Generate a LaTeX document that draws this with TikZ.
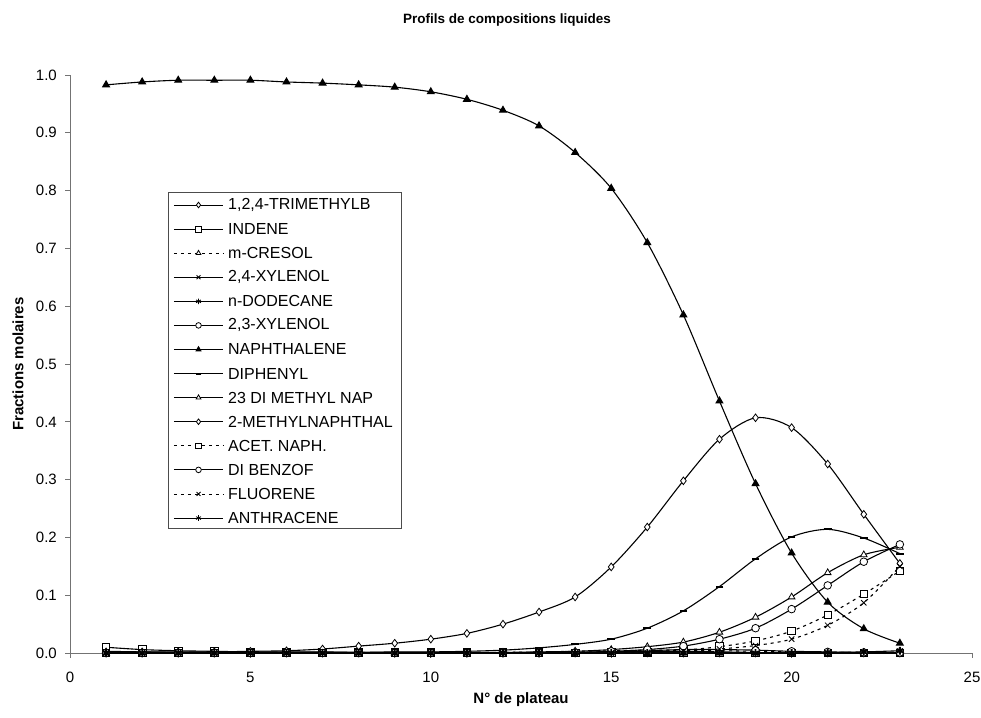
\documentclass[tikz,border=0pt]{standalone}
\usepackage{fontspec}
\setmainfont{Liberation Sans}
\usetikzlibrary{plotmarks}

\tikzset{
  serie/.style={black, line width=1.1pt, mark size=3.8pt, mark options={solid, fill=white, line width=0.8pt}},
  lisse/.style={smooth, tension=0.5},
  pointille/.style={dash pattern=on 3pt off 4pt},
  epais/.style={mark options={solid, line width=1.8pt}},
  axe/.style={draw=black!55, line width=0.9pt},
  gras/.style={font=\bfseries\fontsize{15}{17}\selectfont},
  trimeth/.style={mark=diamond*},
  indene/.style={mark=square*},
  cresol/.style={pointille, mark=triangle*},
  xyltf/.style={mark=x},
  dodec/.style={mark=asterisk},
  xylvt/.style={mark=*},
  naph/.style={mark=triangle*, mark options={solid, fill=black}},
  diph/.style={mark=-, mark options={solid, line width=2pt}},
  dmn/.style={mark=triangle*},
  mnaph/.style={mark=diamond*},
  acet/.style={pointille, mark=square*},
  dibenz/.style={mark=*},
  fluor/.style={pointille, mark=x},
  anthr/.style={mark=asterisk},
}

\begin{document}
\begin{tikzpicture}[x=36.08pt, y=578pt, font=\fontsize{15}{17}\selectfont]
  \useasboundingbox (-1.940,-0.1107) rectangle (25.249,1.1298);

  % axes
  \draw[axe] (0,0) -- (25,0);
  \draw[axe] (0,0) -- (0,1);
  \foreach \t [count=\i from 0] in {0.0,0.1,0.2,0.3,0.4,0.5,0.6,0.7,0.8,0.9,1.0}{
    \draw[axe] (0,\t) -- ++(-5pt,0);
    \node[anchor=east, inner sep=0pt] (yl\i) at (-0.36,\t) {\t};
  }
  \foreach \t in {0,5,...,25}{
    \draw[axe] (\t,0) -- ++(0,-5pt);
    \node[inner sep=0pt] (xl\t) at (\t,-0.0415) {\t};
  }

  \node[font=\bfseries\fontsize{13.5}{16}\selectfont] (titre) at (12.11,1.095) {Profils de compositions liquides};
  \node[gras] (xtitre) at (12.5,-0.0813) {N° de plateau};
  \node[gras, rotate=90] (ytitre) at (-1.441,0.5) {Fractions molaires};

  % courbes
  \draw[serie, lisse, trimeth] plot coordinates {(1,0.003) (2,0.002) (3,0.001) (4,0.001) (5,0.001) (6,0.001) (7,0.001) (8,0.001) (9,0) (10,0) (11,0) (12,0) (13,0) (14,0) (15,0) (16,0) (17,0) (18,0) (19,0) (20,0) (21,0) (22,0) (23,0)};
  \draw[serie, lisse, indene] plot coordinates {(1,0.010) (2,0.006) (3,0.004) (4,0.003) (5,0.002) (6,0.002) (7,0.002) (8,0.001) (9,0.001) (10,0.001) (11,0.001) (12,0.001) (13,0) (14,0) (15,0) (16,0) (17,0) (18,0) (19,0) (20,0) (21,0) (22,0) (23,0)};
  \draw[serie, lisse, cresol] plot coordinates {(1,0) (2,0) (3,0) (4,0) (5,0) (6,0) (7,0) (8,0) (9,0) (10,0) (11,0) (12,0.001) (13,0.002) (14,0.003) (15,0.004) (16,0.005) (17,0.005) (18,0.004) (19,0.003) (20,0.002) (21,0.001) (22,0.001) (23,0.001)};
  \draw[serie, lisse, xyltf, epais] plot coordinates {(1,0) (2,0) (3,0) (4,0) (5,0) (6,0) (7,0) (8,0) (9,0) (10,0) (11,0) (12,0) (13,0) (14,0.001) (15,0.002) (16,0.003) (17,0.003) (18,0.002) (19,0.001) (20,0) (21,0) (22,0) (23,0)};
  \draw[serie, lisse, dodec, epais] plot coordinates {(1,0.001) (2,0.001) (3,0.001) (4,0.001) (5,0.001) (6,0.001) (7,0.001) (8,0.001) (9,0.001) (10,0.001) (11,0) (12,0) (13,0) (14,0) (15,0) (16,0) (17,0) (18,0) (19,0) (20,0) (21,0) (22,0) (23,0)};
  \draw[serie, lisse, xylvt] plot coordinates {(1,0) (2,0) (3,0) (4,0) (5,0) (6,0) (7,0) (8,0) (9,0) (10,0) (11,0) (12,0) (13,0) (14,0.001) (15,0.002) (16,0.004) (17,0.006) (18,0.006) (19,0.005) (20,0.003) (21,0.002) (22,0.001) (23,0.001)};
  \draw[serie, lisse, naph] plot coordinates {(1,0.983) (2,0.988) (3,0.991) (4,0.991) (5,0.991) (6,0.988) (7,0.986) (8,0.983) (9,0.979) (10,0.971) (11,0.958) (12,0.939) (13,0.912) (14,0.866) (15,0.804) (16,0.710) (17,0.585) (18,0.436) (19,0.293) (20,0.173) (21,0.088) (22,0.042) (23,0.017)};
  \draw[serie, lisse, diph] plot coordinates {(1,0) (2,0) (3,0) (4,0) (5,0) (6,0.001) (7,0.001) (8,0.001) (9,0.002) (10,0.002) (11,0.003) (12,0.005) (13,0.009) (14,0.015) (15,0.024) (16,0.043) (17,0.073) (18,0.115) (19,0.163) (20,0.201) (21,0.214) (22,0.199) (23,0.172)};
  \draw[serie, lisse, dmn] plot coordinates {(1,0) (2,0) (3,0) (4,0) (5,0) (6,0) (7,0) (8,0) (9,0) (10,0) (11,0) (12,0.001) (13,0.002) (14,0.003) (15,0.006) (16,0.011) (17,0.019) (18,0.036) (19,0.062) (20,0.097) (21,0.139) (22,0.170) (23,0.183)};
  \draw[serie, lisse, mnaph] plot coordinates {(1,0.002) (2,0.002) (3,0.002) (4,0.002) (5,0.003) (6,0.004) (7,0.007) (8,0.012) (9,0.017) (10,0.024) (11,0.034) (12,0.050) (13,0.071) (14,0.097) (15,0.149) (16,0.218) (17,0.298) (18,0.370) (19,0.407) (20,0.390) (21,0.327) (22,0.240) (23,0.155)};
  \draw[serie, lisse, acet] plot coordinates {(1,0) (2,0) (3,0) (4,0) (5,0) (6,0) (7,0) (8,0) (9,0) (10,0) (11,0) (12,0) (13,0) (14,0) (15,0.001) (16,0.002) (17,0.005) (18,0.011) (19,0.021) (20,0.038) (21,0.066) (22,0.102) (23,0.142)};
  \draw[serie, lisse, dibenz] plot coordinates {(1,0) (2,0) (3,0) (4,0) (5,0) (6,0) (7,0) (8,0) (9,0) (10,0) (11,0) (12,0) (13,0) (14,0.001) (15,0.003) (16,0.006) (17,0.012) (18,0.024) (19,0.043) (20,0.076) (21,0.117) (22,0.158) (23,0.188)};
  \draw[serie, lisse, fluor] plot coordinates {(1,0) (2,0) (3,0) (4,0) (5,0) (6,0) (7,0) (8,0) (9,0) (10,0) (11,0) (12,0) (13,0) (14,0) (15,0) (16,0.001) (17,0.003) (18,0.007) (19,0.013) (20,0.024) (21,0.048) (22,0.087) (23,0.150)};
  \draw[serie, lisse, anthr, epais] plot coordinates {(1,0) (2,0) (3,0) (4,0) (5,0) (6,0) (7,0) (8,0) (9,0) (10,0) (11,0) (12,0) (13,0) (14,0) (15,0) (16,0) (17,0) (18,0) (19,0) (20,0) (21,0.001) (22,0.002) (23,0.004)};

  % legende
  \draw[black!70, line width=0.8pt, fill=white] (2.716,0.2163) rectangle (9.174,0.7976);
  \foreach \st/\nom [count=\i from 0] in {trimeth/{1,2,4-TRIMETHYLB}, indene/INDENE, cresol/m-CRESOL, xyltf/{2,4-XYLENOL}, dodec/n-DODECANE, xylvt/{2,3-XYLENOL}, naph/NAPHTHALENE, diph/DIPHENYL, dmn/23 DI METHYL NAP, mnaph/2-METHYLNAPHTHAL, acet/ACET. NAPH., dibenz/DI BENZOF, fluor/FLUORENE, anthr/ANTHRACENE}{
    \pgfmathsetmacro\ly{0.7751-0.04166*\i}
    \draw[serie, \st, line width=0.9pt, mark size=2.8pt, mark indices={2}] plot coordinates {(2.882,\ly) (3.562,\ly) (4.241,\ly)};
    \node[anchor=west, inner sep=0pt, font=\fontsize{16}{18}\selectfont] (leg\i) at (4.379,\ly) {\nom};
  }
\end{tikzpicture}
\end{document}
